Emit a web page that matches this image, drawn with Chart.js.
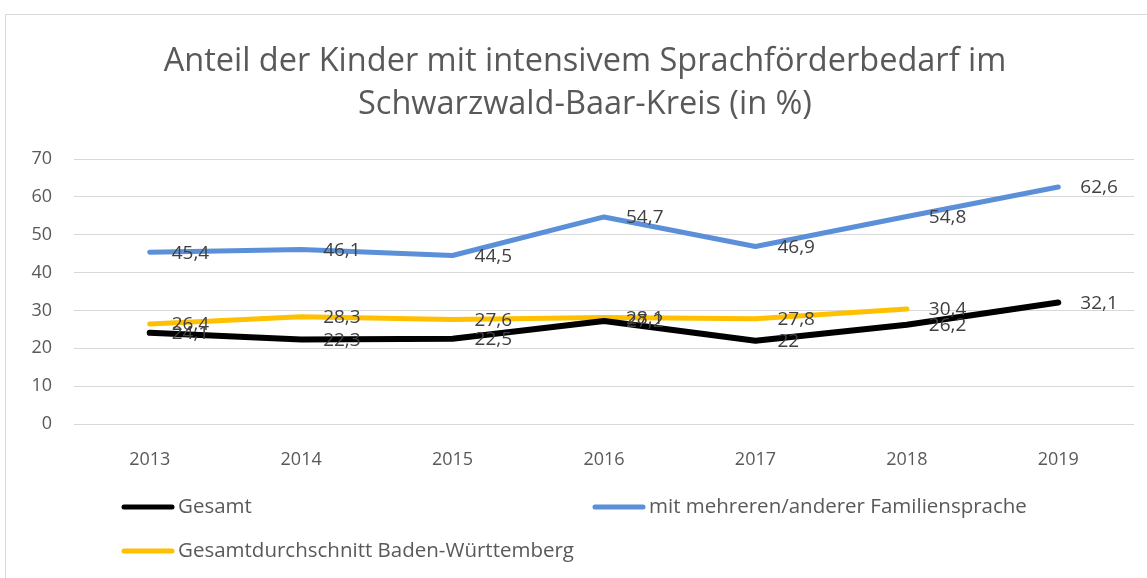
<!DOCTYPE html>
<html><head><meta charset="utf-8">
<script src="https://cdn.jsdelivr.net/npm/chart.js@4"></script>
<style>html,body{margin:0;padding:0;background:#fff;}#wrap{width:1147px;height:578px;position:relative;}</style>
</head><body><div id="wrap"><canvas id="c" width="1147" height="578"></canvas></div>
<script>
const categories = ['2013','2014','2015','2016','2017','2018','2019'];
const gesamt = [24.1, 22.3, 22.5, 27.2, 22, 26.2, 32.1];
const familiensprache = [45.4, 46.1, 44.5, 54.7, 46.9, 54.8, 62.6];
const bawue = [26.4, 28.3, 27.6, 28.1, 27.8, 30.4, null];
const seriesNames = ['Gesamt', 'mit mehreren/anderer Familiensprache', 'Gesamtdurchschnitt Baden-Württemberg'];
const titleLines = ['Anteil der Kinder mit intensivem Sprachförderbedarf im', 'Schwarzwald-Baar-Kreis (in %)'];

const FONT = "'Open Sans', 'Noto Sans', sans-serif";

const borderPlugin = {
  id: 'outerBorder',
  beforeDraw(chart) {
    const ctx = chart.ctx;
    ctx.save();
    ctx.strokeStyle = '#d9d9d9';
    ctx.lineWidth = 1;
    ctx.strokeRect(5.5, 14.5, 1300, 700);
    ctx.restore();
  }
};

const titlePlugin = {
  id: 'customTitle',
  afterDraw(chart) {
    const ctx = chart.ctx;
    ctx.save();
    ctx.font = '32.5px ' + FONT;
    ctx.fillStyle = '#595959';
    ctx.textAlign = 'center';
    ctx.textBaseline = 'middle';
    titleLines.forEach((t, i) => ctx.fillText(t, 585, 62 + i * 43));
    ctx.restore();
  }
};

const labelPlugin = {
  id: 'valueLabels',
  afterDatasetsDraw(chart) {
    const ctx = chart.ctx;
    ctx.save();
    ctx.font = '19px ' + FONT;
    ctx.fillStyle = '#404040';
    ctx.textBaseline = 'middle';
    ctx.textAlign = 'left';
    chart.data.datasets.forEach((ds, i) => {
      const meta = chart.getDatasetMeta(i);
      meta.data.forEach((pt, j) => {
        const v = ds.data[j];
        if (v === null || v === undefined) return;
        ctx.fillText(String(v).replace('.', ','), pt.x + 22, pt.y + 1);
      });
    });
    ctx.restore();
  }
};

const legendPlugin = {
  id: 'customLegend',
  afterDraw(chart) {
    const ctx = chart.ctx;
    const pos = [[122, 507], [593, 507], [122, 551]];
    ctx.save();
    ctx.font = '20.5px ' + FONT;
    ctx.textBaseline = 'middle';
    chart.data.datasets.forEach((ds, i) => {
      const [x, y] = pos[i];
      ctx.strokeStyle = ds.borderColor;
      ctx.lineWidth = 5;
      ctx.lineCap = 'round';
      ctx.beginPath();
      ctx.moveTo(x + 2, y);
      ctx.lineTo(x + 50, y);
      ctx.stroke();
      ctx.fillStyle = '#595959';
      ctx.fillText(ds.label, x + 56, y);
    });
    ctx.restore();
  }
};

new Chart(document.getElementById('c'), {
  type: 'line',
  data: {
    labels: categories,
    datasets: [
      { label: seriesNames[0], data: gesamt, borderColor: '#000000', backgroundColor: '#000000', borderWidth: 6 },
      { label: seriesNames[1], data: familiensprache, borderColor: '#5b8fd8', backgroundColor: '#5b8fd8' },
      { label: seriesNames[2], data: bawue, borderColor: '#ffc000', backgroundColor: '#ffc000' }
    ]
  },
  options: {
    responsive: false,
    animation: false,
    devicePixelRatio: 1,
    layout: { padding: { left: 0, right: 13, top: 159, bottom: 0 } },
    elements: {
      line: { borderWidth: 5, tension: 0, borderCapStyle: 'round', borderJoinStyle: 'round' },
      point: { radius: 0, hoverRadius: 0 }
    },
    plugins: {
      legend: { display: false },
      tooltip: { enabled: false },
      title: { display: false }
    },
    scales: {
      x: {
        offset: true,
        grid: { display: false },
        border: { display: false },
        ticks: { color: '#595959', font: { family: FONT, size: 18 }, padding: 17 },
        afterFit(scale) { scale.height = 154; }
      },
      y: {
        min: 0, max: 70,
        ticks: { stepSize: 10, color: '#595959', font: { family: FONT, size: 18 }, padding: 22 },
        grid: { color: '#d9d9d9', lineWidth: 1, drawTicks: false },
        border: { display: false },
        afterFit(scale) { scale.width = 74; }
      }
    }
  },
  plugins: [borderPlugin, titlePlugin, labelPlugin, legendPlugin]
});
</script></body></html>
